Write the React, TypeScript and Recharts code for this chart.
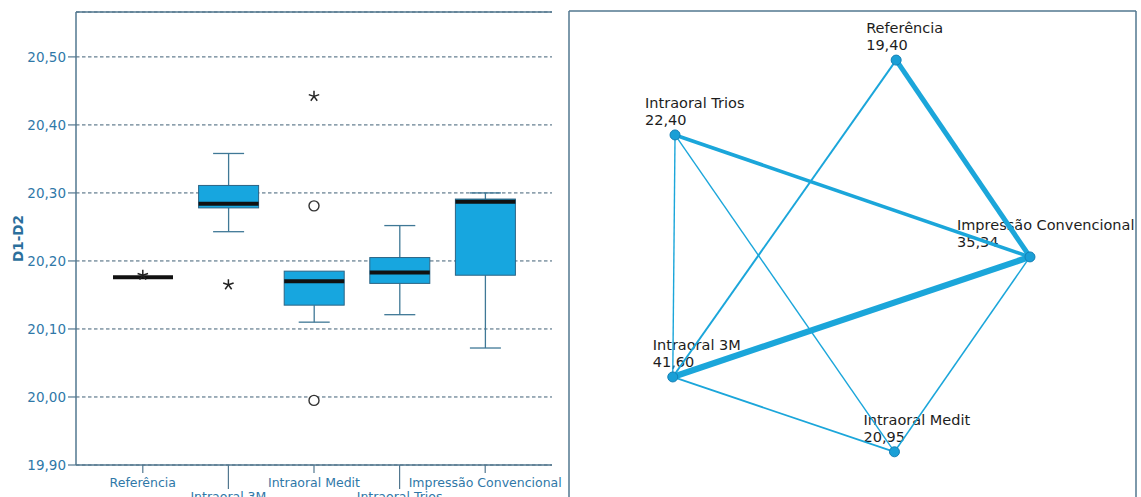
import React from "react";
import {
  ComposedChart,
  ScatterChart,
  Bar,
  Scatter,
  XAxis,
  YAxis,
  CartesianGrid,
  ReferenceLine,
} from "recharts";

// ---- boxplot (left) ----
const groups = [
  "Referência",
  "Intraoral 3M",
  "Intraoral Medit",
  "Intraoral Trios",
  "Impressão Convencional",
];
const whiskerLow = [20.176, 20.243, 20.11, 20.121, 20.072];
const quart1 = [20.176, 20.278, 20.135, 20.167, 20.179];
const medians = [20.176, 20.284, 20.17, 20.183, 20.287];
const quart3 = [20.176, 20.311, 20.185, 20.205, 20.291];
const whiskerHigh = [20.176, 20.358, 20.185, 20.252, 20.3];

const outlierGroup = [
  "Referência",
  "Intraoral 3M",
  "Intraoral Medit",
  "Intraoral Medit",
  "Intraoral Medit",
];
const outlierValue = [20.179, 20.165, 20.442, 20.281, 19.995];
const outlierKind = ["extreme", "extreme", "extreme", "outlier", "outlier"];

const yTicks = [19.9, 20.0, 20.1, 20.2, 20.3, 20.4, 20.5];
const yDomain = [19.9, 20.566];

// ---- pairwise comparisons (right) ----
const nodeNames = [
  "Referência",
  "Intraoral Trios",
  "Impressão Convencional",
  "Intraoral 3M",
  "Intraoral Medit",
];
const meanRanks = [19.4, 22.4, 35.34, 41.6, 20.95];
const layoutX = [57.7, 18.7, 81.3, 18.3, 57.4];
const layoutY = [89.9, 74.5, 49.4, 24.7, 9.3];
const edgeFrom = [0, 0, 1, 1, 1, 3, 3, 4];
const edgeTo = [2, 3, 2, 3, 4, 2, 4, 2];
const edgeStrength = [5, 2, 3.6, 1.4, 1.4, 6.2, 1.8, 1.5];

const FONT = "DejaVu Sans";
const AXIS_BLUE = "#2f78a8";
const FRAME = "#52778f";
const BOX_FILL = "#17a6df";
const EDGE = "#1ba6da";

const boxData = groups.map((name, i) => ({
  name,
  lo: whiskerLow[i],
  q1: quart1[i],
  med: medians[i],
  q3: quart3[i],
  hi: whiskerHigh[i],
}));

const outliers = outlierGroup.map((name, i) => ({
  name,
  v: outlierValue[i],
  kind: outlierKind[i],
}));

const nodes = nodeNames.map((name, i) => ({
  name,
  rank: meanRanks[i],
  x: layoutX[i],
  y: layoutY[i],
}));

const edges = edgeFrom.map((f, i) => ({
  pts: [nodes[f], nodes[edgeTo[i]]],
  w: edgeStrength[i],
}));

const fmt = (v: number) => v.toFixed(2).replace(".", ",");

// label offsets for the network nodes
const LABEL_DX: Record<string, number> = {
  "Referência": -30,
  "Intraoral Trios": -30,
  "Impressão Convencional": -73,
  "Intraoral 3M": -20,
  "Intraoral Medit": -31,
};

function BoxShape(props: any) {
  const { x, y, width, height, payload } = props;
  if (x == null || y == null || !payload) return null;
  const { lo, q1, med, q3, hi } = payload;
  const span = hi - lo;
  const toPx = (v: number) => (span === 0 ? y : y + ((hi - v) / span) * height);
  const cx = x + width / 2;
  const cap = 15.5;
  const yLo = toPx(lo);
  const yHi = toPx(hi);
  const yQ1 = toPx(q1);
  const yQ3 = toPx(q3);
  const yMed = toPx(med);
  return (
    <g>
      {hi > q3 && (
        <>
          <line x1={cx} x2={cx} y1={yHi} y2={yQ3} stroke="#3f7896" strokeWidth={1.3} />
          <line x1={cx - cap} x2={cx + cap} y1={yHi} y2={yHi} stroke="#3f7896" strokeWidth={1.3} />
        </>
      )}
      {lo < q1 && (
        <>
          <line x1={cx} x2={cx} y1={yQ1} y2={yLo} stroke="#3f7896" strokeWidth={1.3} />
          <line x1={cx - cap} x2={cx + cap} y1={yLo} y2={yLo} stroke="#3f7896" strokeWidth={1.3} />
        </>
      )}
      {q3 > q1 && (
        <rect
          x={x}
          y={yQ3}
          width={width}
          height={yQ1 - yQ3}
          fill={BOX_FILL}
          stroke="#2c6485"
          strokeWidth={1}
        />
      )}
      <line x1={x} x2={x + width} y1={yMed} y2={yMed} stroke="#111" strokeWidth={4} />
    </g>
  );
}

function OutlierShape(props: any) {
  const { cx, cy, payload } = props;
  if (cx == null || cy == null) return null;
  if (payload.kind === "outlier") {
    return <circle cx={cx} cy={cy} r={5} fill="#fff" stroke="#333" strokeWidth={1.4} />;
  }
  const arms = [0, 72, 144, 216, 288].map((a) => {
    const r = ((a - 90) * Math.PI) / 180;
    return (
      <line
        key={a}
        x1={cx}
        y1={cy}
        x2={cx + Math.cos(r) * 5.5}
        y2={cy + Math.sin(r) * 5.5}
        stroke="#222"
        strokeWidth={1.5}
      />
    );
  });
  return <g>{arms}</g>;
}

function GroupTick(props: any) {
  const { x, y, payload, index } = props;
  const low = index % 2 === 1;
  return (
    <g>
      <line x1={x} x2={x} y1={y} y2={y + (low ? 24 : 8)} stroke={FRAME} strokeWidth={1.2} />
      <text
        x={x}
        y={y + (low ? 36 : 22)}
        textAnchor="middle"
        fontSize={12.5}
        fontFamily={FONT}
        fill={AXIS_BLUE}
      >
        {payload.value}
      </text>
    </g>
  );
}

function NodeLabel(props: any) {
  const { cx, cy, payload } = props;
  if (cx == null || cy == null) return null;
  const dx = LABEL_DX[payload.name] ?? -30;
  return (
    <g fontFamily={FONT} fontSize={14.5} fill="#1d1d1d">
      <text x={cx + dx} y={cy - 27}>{payload.name}</text>
      <text x={cx + dx} y={cy - 10}>{fmt(payload.rank)}</text>
    </g>
  );
}

function NodeDot(props: any) {
  const { cx, cy } = props;
  if (cx == null || cy == null) return null;
  return <circle cx={cx} cy={cy} r={5} fill="#1a9fd6" stroke="#1680b5" strokeWidth={1} />;
}

function BoxPlot() {
  return (
    <ComposedChart
      width={568}
      height={497}
      data={boxData}
      margin={{ top: 12, right: 16, bottom: 0, left: 0 }}
    >
      <CartesianGrid
        vertical={false}
        stroke="#3f5f75"
        strokeDasharray="3.5 2.5"
        strokeWidth={1}
      />
      <XAxis
        dataKey="name"
        type="category"
        allowDuplicatedCategory={false}
        padding={{ left: 24, right: 24 }}
        height={32}
        tickLine={false}
        tickSize={0}
        tickMargin={0}
        interval={0}
        axisLine={{ stroke: FRAME, strokeWidth: 1.5 }}
        tick={<GroupTick />}
      />
      <YAxis
        type="number"
        domain={yDomain}
        ticks={yTicks}
        allowDataOverflow
        width={76}
        tickSize={8}
        tickMargin={2}
        tickFormatter={fmt}
        tickLine={{ stroke: FRAME, strokeWidth: 1.2 }}
        axisLine={{ stroke: FRAME, strokeWidth: 1.5 }}
        tick={{ fontSize: 13.5, fontFamily: FONT, fill: AXIS_BLUE }}
        label={{
          content: (p: any) => {
            const vb = p.viewBox || { x: 0, y: 12, height: 453 };
            const cy = vb.y + vb.height / 2;
            return (
              <text
                x={18}
                y={cy}
                transform={`rotate(-90 18 ${cy})`}
                textAnchor="middle"
                dominantBaseline="central"
                fontSize={13.5}
                fontWeight="bold"
                fontFamily={FONT}
                fill="#2b6f9c"
              >
                D1-D2
              </text>
            );
          },
        }}
      />
      <YAxis
        yAxisId="right"
        orientation="right"
        type="number"
        domain={yDomain}
        allowDataOverflow
        width={0}
        tick={false}
        tickLine={false}
        axisLine={{ stroke: FRAME, strokeWidth: 1.5 }}
      />
      <ReferenceLine y={yDomain[1]} stroke={FRAME} strokeWidth={1.5} />
      <Bar
        dataKey={(d: any) => [d.lo, d.hi]}
        barSize={60}
        shape={<BoxShape />}
        isAnimationActive={false}
      />
      <Scatter
        data={outliers}
        dataKey="v"
        shape={<OutlierShape />}
        isAnimationActive={false}
      />
    </ComposedChart>
  );
}

function Network() {
  return (
    <ScatterChart
      width={581}
      height={497}
      margin={{ top: 11, right: 5, bottom: 0, left: 9 }}
    >
      <XAxis type="number" dataKey="x" domain={[0, 100]} hide />
      <YAxis type="number" dataKey="y" domain={[0, 100]} hide />
      <ReferenceLine x={0} stroke={FRAME} strokeWidth={1.5} />
      <ReferenceLine x={100} stroke={FRAME} strokeWidth={1.5} />
      <ReferenceLine y={100} stroke={FRAME} strokeWidth={1.5} />
      <Scatter data={nodes} shape={<NodeLabel />} isAnimationActive={false} />
      {edges.map((e, i) => (
        <Scatter
          key={i}
          data={e.pts}
          line={{ stroke: EDGE, strokeWidth: e.w }}
          shape={() => <g />}
          isAnimationActive={false}
        />
      ))}
      <Scatter data={nodes} shape={<NodeDot />} isAnimationActive={false} />
    </ScatterChart>
  );
}

export default function App() {
  return (
    <div
      style={{
        position: "absolute",
        left: 0,
        top: 0,
        width: 1141,
        height: 497,
        overflow: "hidden",
        background: "#fff",
      }}
    >
      <div style={{ position: "absolute", left: 560, top: 0 }}>
        <Network />
      </div>
      <div style={{ position: "absolute", left: 0, top: 0 }}>
        <BoxPlot />
      </div>
    </div>
  );
}
